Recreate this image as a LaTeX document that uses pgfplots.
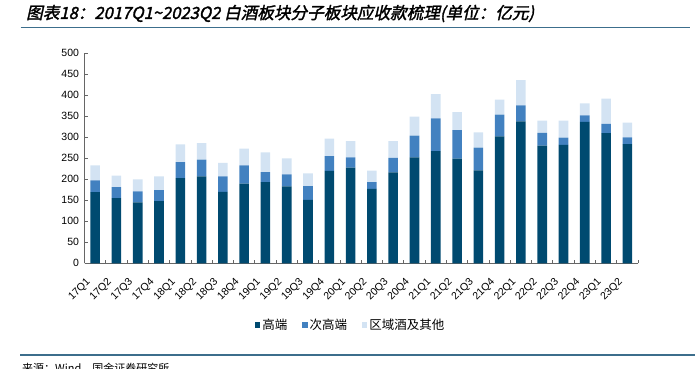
\documentclass[border=0pt]{standalone}
\usepackage{fontspec}
\setmainfont{Liberation Sans}
\newfontfamily\cjk{Noto Sans CJK SC}
\newfontfamily\cjktitle[FakeSlant=0.22,FakeBold=1.8]{Noto Sans CJK SC}
\usepackage{pgfplots}
\usepackage{pgfplotstable}
\pgfplotsset{compat=1.18}
\definecolor{cHigh}{RGB}{0,74,112}
\definecolor{cMid}{RGB}{66,129,192}
\definecolor{cOth}{RGB}{211,227,243}
\definecolor{cRule}{RGB}{60,110,140}
\pgfplotstableread{
x high mid oth
0 169.6 28 35.5
1 155 26.5 27.5
2 145 26 29
3 148 26 33
4 203 38 42
5 207 40 39
6 170 37 32
7 190 43 40
8 193.5 23.5 47
9 183 29 38
10 151 33 30
11 220 35 42
12 228 24 39
13 177 16.5 27
14 216.5 34.5 40
15 252 52 45.5
16 267 78 58
17 249 68 43
18 221 54.5 36.5
19 302 52 36
20 338 38 60
21 280 30.5 29.5
22 282 17 41
23 337 15 29
24 310 22 60
25 283.5 16.5 35
}\datatable
\begin{document}
\begin{tikzpicture}[x=1pt,y=1pt]
\path[use as bounding box] (0,0) rectangle (695,368);
\node[anchor=west,inner sep=0] at (26,354.5) {\cjktitle\fontsize{16.6}{19}\selectfont 图表18：2017Q1\textasciitilde2023Q2 白酒板块分子板块应收款梳理(单位：亿元)};
\draw[cRule,line width=1.3pt] (20.7,340.3) -- (690,340.3);
\draw[cRule,line width=1.3pt] (20,13) -- (695,13);
\node[anchor=north west,inner sep=0] at (22,5.0) {\cjk\fontsize{11}{13}\selectfont 来源：Wind，国金证券研究所};
\begin{axis}[
  at={(84.5pt,104.7pt)}, anchor=south west,
  scale only axis, width=553.5pt, height=210pt,
  ybar stacked, bar width=0.45,
  xmin=-0.5, xmax=25.5, ymin=0, ymax=500,
  ytick={0,50,...,500},
  xtick={-0.5,0.5,...,25.5},
  x tick label as interval,
  xticklabels={17Q1,17Q2,17Q3,17Q4,18Q1,18Q2,18Q3,18Q4,19Q1,19Q2,19Q3,19Q4,20Q1,20Q2,20Q3,20Q4,21Q1,21Q2,21Q3,21Q4,22Q1,22Q2,22Q3,22Q4,23Q1,23Q2,},
  axis x line*=bottom, axis y line*=left,
  axis line style={draw=black!60, -, line width=0.9pt},
  tick align=inside, major tick length=3pt,
  tick style={draw=black!60, line width=0.8pt},
  /pgf/number format/assume math mode=true,
  ticklabel style={font=\fontsize{10.5}{12}\selectfont},
  yticklabel style={xshift=-2pt},
  xticklabel style={xshift=-4pt, yshift=-15pt, rotate=45, anchor=east},
  legend columns=3,
  legend style={at={(0.308,-0.294)}, anchor=west, draw=none, fill=none, inner sep=0pt,
    font=\cjk\fontsize{12.5}{14}\selectfont,
    /tikz/every even column/.append style={column sep=13pt}},
  legend image code/.code={\fill[#1] (0pt,-2.6pt) rectangle (5.2pt,2.6pt);},
]
\addplot[fill=cHigh, draw=none] table[x=x,y=high]{\datatable};
\addplot[fill=cMid, draw=none] table[x=x,y=mid]{\datatable};
\addplot[fill=cOth, draw=none] table[x=x,y=oth]{\datatable};
\legend{高端,次高端,区域酒及其他}
\end{axis}
\end{tikzpicture}
\end{document}
